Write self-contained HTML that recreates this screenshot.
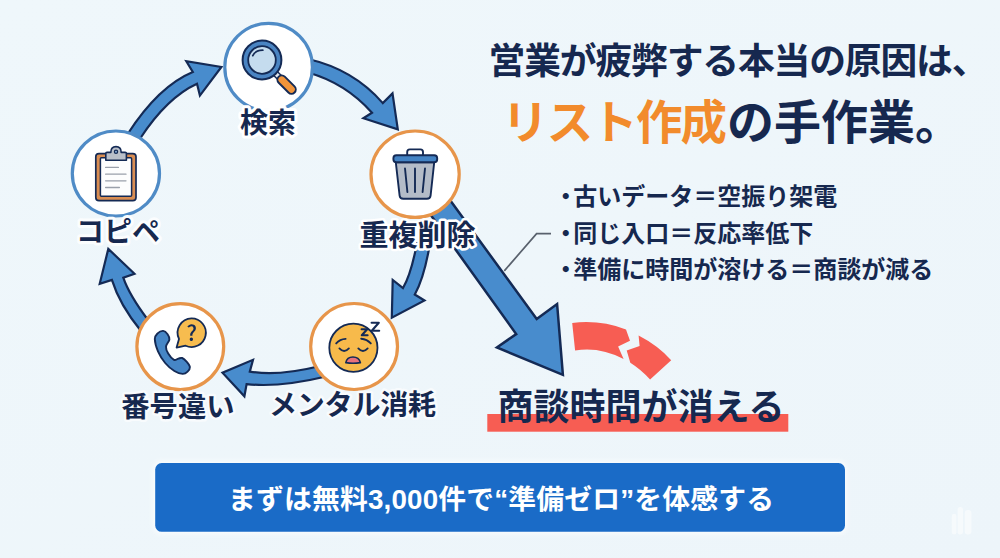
<!DOCTYPE html>
<html lang="ja"><head><meta charset="utf-8"><title>営業が疲弊する本当の原因は、リスト作成の手作業。</title>
<style>
html,body{margin:0;padding:0;background:#eef6fb;}
body{width:1000px;height:558px;position:relative;overflow:hidden;font-family:"Liberation Sans","Noto Sans CJK JP",sans-serif;}
svg{position:absolute;left:0;top:0;display:block}
svg text{font-family:"Liberation Sans","Noto Sans CJK JP",sans-serif;font-weight:bold;}
.t{position:absolute;left:0;top:0;width:1000px;height:558px;color:transparent;}
.t h1,.t ul,.t ol{margin:0;padding:0;list-style:none;font-size:0;}
.t span,.t em,.t li,.t strong,.t button{position:absolute;display:block;white-space:nowrap;line-height:1;font-weight:bold;font-style:normal;overflow:hidden;color:transparent;background:none;border:0;padding:0;margin:0;font-family:inherit;text-align:left;}
</style></head><body>
<svg width="1000" height="558" viewBox="0 0 1000 558">
<defs><filter id="bl" x="-5%" y="-20%" width="110%" height="140%"><feGaussianBlur stdDeviation="2.5"/></filter><linearGradient id="bg" x1="0" y1="0" x2="1" y2="1"><stop offset="0" stop-color="#eff7fb"/><stop offset="1" stop-color="#edf5fa"/></linearGradient></defs>
<rect width="1000" height="558" fill="url(#bg)"/>
<path d="M437 182L451.8 202.6L536.7 319L557.1 304L562.9 374.9L496.9 347.4L516.2 334.1L456.6 251L430 214Z" fill="#488ccd" stroke="#142a55" stroke-width="2.5" stroke-linejoin="miter"/>
<path d="M128 133.5Q158.6 86.2 192.8 72L186.3 61.2L221.4 67L199.9 95.6L197 83.8Q167.2 97.5 140.5 138Z" fill="#488ccd" stroke="#142a55" stroke-width="2.2" stroke-linejoin="miter" stroke-miterlimit="6"/>
<path d="M308 59Q353.6 69.4 382.8 103.1L392.5 93.4L397.8 129.4L363.4 118.2L372 112.8Q346 83.3 308 72.5Z" fill="#488ccd" stroke="#142a55" stroke-width="2.2" stroke-linejoin="miter" stroke-miterlimit="6"/>
<path d="M417 243Q411 274.5 403 288L392.7 279.9L391.8 317.7L424.5 300.5L414.8 294.5Q424.4 277.2 430 243Z" fill="#488ccd" stroke="#142a55" stroke-width="2.2" stroke-linejoin="miter" stroke-miterlimit="6"/>
<path d="M318 366.5Q278.1 376.3 249.8 371.6L253 359.8L222.5 372.7L244.4 396.3L246.6 384.1Q279.7 387.7 326 376.5Z" fill="#488ccd" stroke="#142a55" stroke-width="2.2" stroke-linejoin="miter" stroke-miterlimit="6"/>
<path d="M141 331Q119.5 304.6 111.9 279.9L99.7 283.8L108.3 248.9L134.5 273.7L123.3 277.7Q129.2 295.1 148 320Z" fill="#488ccd" stroke="#142a55" stroke-width="2.2" stroke-linejoin="miter" stroke-miterlimit="6"/>
<ellipse cx="268.6" cy="67.2" rx="43.8" ry="43.8" fill="#fff" stroke="#4f8bc6" stroke-width="3.2"/>
<ellipse cx="115.9" cy="173.5" rx="43.6" ry="42.5" fill="#fff" stroke="#4f8bc6" stroke-width="3.2"/>
<ellipse cx="415.1" cy="174.2" rx="44.1" ry="43.2" fill="#fff" stroke="#e7954a" stroke-width="3.2"/>
<ellipse cx="354.1" cy="346.5" rx="43.4" ry="43" fill="#fff" stroke="#e7954a" stroke-width="3.2"/>
<ellipse cx="180.3" cy="346.6" rx="43.4" ry="43" fill="#fff" stroke="#e7954a" stroke-width="3.2"/>
<ellipse cx="270.5" cy="111.6" rx="14" ry="3.6" fill="#fcfdfe"/>
<g stroke="#142a55" stroke-linejoin="round">
<g transform="translate(262 60) rotate(45)">
<rect x="19" y="-2.7" width="6" height="5.4" fill="#e4e9f0" stroke-width="1.5"/>
<rect x="23.6" y="-4.3" width="22.4" height="8.6" rx="4.3" fill="#f0943a" stroke-width="1.9"/>
</g>
<circle cx="262" cy="60" r="19.4" fill="#4a84c2" stroke-width="2"/>
<circle cx="262" cy="60" r="13.8" fill="#c5dcee" stroke-width="1.8"/>
<path d="M252.8 55.6Q255.6 50.2 262.8 50.2" fill="none" stroke-width="1.8" stroke-linecap="round"/>
</g>
<g stroke="#142a55" stroke-linejoin="round">
<rect x="95.8" y="153.6" width="40.2" height="47" rx="3.2" fill="#d98d52" stroke-width="1.7"/>
<rect x="100.4" y="157.8" width="31.2" height="38.4" rx="1" fill="#fdfdfd" stroke-width="1.5"/>
<path d="M105.8 160.2V153.6Q105.8 152.4 107 152.4H110.8Q110.8 146.6 116 146.6Q121.2 146.6 121.2 152.4H125.2Q126.4 152.4 126.4 153.6V160.2Z" fill="#b9bfc9" stroke-width="1.6"/>
<circle cx="116" cy="151.8" r="1.6" fill="#8fb4dc" stroke-width="1.3"/>
<g stroke="#9aa0aa" stroke-width="1.3" stroke-linecap="round"><path d="M105.6 167.4H118.4M105.6 174.2H126M105.6 180.8H126M105.6 187.5H119.4"/></g>
</g>
<g stroke="#142a55" stroke-linejoin="round">
<path d="M407.2 155.5V152Q407.2 149.4 409.8 149.4H420.4Q423 149.4 423 152V155.5" fill="none" stroke-width="1.9"/>
<path d="M395.8 162.4L399.6 195.6Q400 198.8 403.2 198.8H427Q430.2 198.8 430.6 195.6L434.2 162.4Z" fill="#b4bcc8" stroke-width="1.9"/>
<rect x="393.4" y="155.2" width="43.8" height="7" rx="3" fill="#4383c4" stroke-width="1.9"/>
<path d="M405 168.5L407.4 192M415 168.5V192M425 168.5L422.6 192" fill="none" stroke-width="1.9" stroke-linecap="round"/>
</g>
<g stroke="#142a55" stroke-linejoin="round" stroke-linecap="round">
<circle cx="353.4" cy="347.8" r="24.1" fill="#f7ba4b" stroke-width="1.8"/>
<path d="M336.2 343.4Q340 339.2 345.6 338.9M361.2 338.7Q367 339.2 370.8 343.4" fill="none" stroke-width="1.9"/>
<path d="M339.4 348.4Q344.1 353.6 348.9 348.4M358.3 348.4Q362.9 353.6 367.7 348.4" fill="none" stroke-width="1.8"/>
<path d="M345.8 362.6Q347 357 352.9 357Q359 357 360.4 362.6Q353 363.8 345.8 362.6Z" fill="#e9727c" stroke-width="1.6"/>
<path d="M361.6 329.2H367.2L361.8 335.2H367.6M371.6 322.8H378.8L371.8 330.8H379.2" fill="none" stroke-width="2.1"/>
</g>
<g stroke="#142a55" stroke-linejoin="round" stroke-linecap="round">
<path d="M154.8 339C154.7 336 156.2 334.8 157.6 333.4C159 332 161.5 330.8 163.2 330.9C164.9 331 166.6 332.8 167.6 334.2C168.6 335.6 169.7 337.5 169.4 339.6C169.1 341.7 166.2 344.3 166 346.6C165.8 348.9 166.9 351.4 168.2 353.6C169.5 355.8 172.3 359 174 359.8C175.7 360.6 177 358.9 178.4 358.6C179.8 358.3 180.8 357.5 182.2 358C183.6 358.5 185.5 360.3 186.8 361.8C188.1 363.3 189.8 365.4 189.9 367C190 368.6 188.8 370.5 187.6 371.6C186.4 372.8 184.8 374 182.6 373.9C180.4 373.8 177.3 372.8 174.4 371C171.5 369.2 167.9 366.3 165.2 363C162.5 359.7 159.7 355.4 158 351.4C156.3 347.4 154.9 342 154.8 339Z" fill="#4686c6" stroke-width="1.9"/>
<path d="M191.5 318.4A14.3 14.3 0 1 1 185.6 345.7L176.6 347.6L179 338.9A14.3 14.3 0 0 1 191.5 318.4Z" fill="#f7bc4f" stroke-width="1.8"/>
</g>
<path d="M190.2 335.8Q190.1 334.7 190.3 333.8Q190.6 333 191.1 332.3Q191.6 331.6 192.2 331Q192.7 330.4 193.1 329.7Q193.5 329.1 193.5 328.4Q193.5 327.8 193.2 327.4Q193 326.9 192.5 326.6Q192 326.3 191.3 326.3Q190.6 326.3 189.9 326.7Q189.3 327 188.7 327.6L187.3 326.4Q188.1 325.5 189.2 324.9Q190.3 324.3 191.6 324.3Q192.9 324.3 193.8 324.8Q194.8 325.2 195.3 326.1Q195.9 327 195.9 328.3Q195.9 329.2 195.5 329.9Q195.1 330.7 194.5 331.3Q194 332 193.5 332.6Q192.9 333.3 192.6 334Q192.3 334.8 192.4 335.8ZM191.3 341.1Q190.6 341.1 190.2 340.6Q189.7 340.1 189.7 339.3Q189.7 338.6 190.2 338.1Q190.6 337.6 191.3 337.6Q192.1 337.6 192.5 338.1Q193 338.6 193 339.3Q193 340.1 192.5 340.6Q192.1 341.1 191.3 341.1Z" fill="#142a55"/>
<text x="240" y="133.3" font-size="28" fill="#16284f" stroke="#ffffff" stroke-width="6" stroke-linejoin="round" paint-order="stroke">検索</text>
<text x="76" y="241.5" font-size="28" fill="#16284f" stroke="#fbfdfe" stroke-width="6" stroke-linejoin="round" paint-order="stroke">コピペ</text>
<text x="359.5" y="245.6" font-size="29" fill="#16284f" stroke="#ffffff" stroke-width="5" stroke-linejoin="round" paint-order="stroke">重複削除</text>
<text x="269" y="415.4" font-size="28" textLength="167" fill="#16284f" stroke="#f8fbfd" stroke-width="5" stroke-linejoin="round" paint-order="stroke">メンタル消耗</text>
<text x="121.3" y="416.6" font-size="28.3" fill="#16284f" stroke="#f8fbfd" stroke-width="5" stroke-linejoin="round" paint-order="stroke">番号違い</text>
<text x="488.5" y="74.2" font-size="36.8" textLength="500" fill="#16284f">営業が疲弊する本当の原因は、</text>
<text x="502" y="138.8" font-size="46.5" textLength="225" fill="#f28b2c">リスト作成</text>
<text x="727" y="138.8" font-size="47" fill="#16284f">の手作業。</text>
<text y="205.4" font-size="24" fill="#16284f"><tspan x="553.8">・</tspan><tspan x="573.3">古いデータ＝空振り架電</tspan></text>
<text y="242" font-size="24" fill="#16284f"><tspan x="553.8">・</tspan><tspan x="573.3">同じ入口＝反応率低下</tspan></text>
<text y="278.2" font-size="24" fill="#16284f"><tspan x="553.8">・</tspan><tspan x="573.3">準備に時間が溶ける＝商談が減る</tspan></text>
<path d="M504.3 270.9L536.6 233.6H551" fill="none" stroke="#59616d" stroke-width="1.7"/>
<path d="M572.2 322.9Q600 319.5 626 329.4L630 340.8L618.1 346.6L623.6 359.1Q600 346.5 575.1 350.5Z" fill="#f75d53"/>
<path d="M638.6 335.5Q658 345.5 671.2 360.2L650.1 379.6Q641 369.5 630.3 362.8L626.7 350.6L639.6 345.9Z" fill="#f75d53"/>
<rect x="487.3" y="414" width="301" height="17.7" fill="#f75d53"/>
<text x="497.5" y="420.3" font-size="36" fill="#16284f">商談時間が消える</text>
<rect x="153.2" y="461.1" width="693.8" height="72.7" rx="8" fill="#fff" opacity=".75" filter="url(#bl)"/>
<rect x="155.2" y="463.1" width="689.8" height="68.7" rx="6.5" fill="#1a6bc7"/>
<text x="228" y="508.7" font-size="27.8" textLength="546" fill="#fff">まずは無料3,000件で“準備ゼロ”を体感する</text>
<g fill="#fff" opacity=".5"><rect x="951.8" y="513.7" width="4.6" height="20.8" rx="2.3"/><rect x="957.6" y="507" width="5.4" height="27.5" rx="2.7"/><rect x="964.8" y="510" width="6.6" height="24.5" rx="3.2"/></g>
</svg>
<div class="t"><h1><span style="left:489px;top:41.5px;width:476px;font-size:36.8px">営業が疲弊する本当の原因は、</span><em style="left:510.2px;top:97.3px;width:214.8px;font-size:46.5px">リスト作成</em><span style="left:730px;top:96.8px;width:203px;font-size:47px">の手作業。</span></h1><ul><li style="left:562.3px;top:184.1px;width:274.7px;font-size:24px">・古いデータ＝空振り架電</li><li style="left:562.3px;top:220.7px;width:252.3px;font-size:24px">・同じ入口＝反応率低下</li><li style="left:561.7px;top:256.9px;width:371.1px;font-size:24px">・準備に時間が溶ける＝商談が減る</li></ul><ol><li style="left:240.7px;top:108.3px;width:55.8px;font-size:28px">検索</li><li style="left:360.5px;top:219.9px;width:113.5px;font-size:29px">重複削除</li><li style="left:274.8px;top:390.6px;width:160.5px;font-size:28px">メンタル消耗</li><li style="left:122.2px;top:391.5px;width:104.6px;font-size:28.3px">番号違い</li><li style="left:78.8px;top:216.9px;width:77.2px;font-size:28px">コピペ</li></ol><strong style="left:499px;top:388.3px;width:277.8px;font-size:36px">商談時間が消える</strong><button style="left:229.3px;top:483.9px;width:543.5px;font-size:27.8px">まずは無料3,000件で“準備ゼロ”を体感する</button></div>
</body></html>
